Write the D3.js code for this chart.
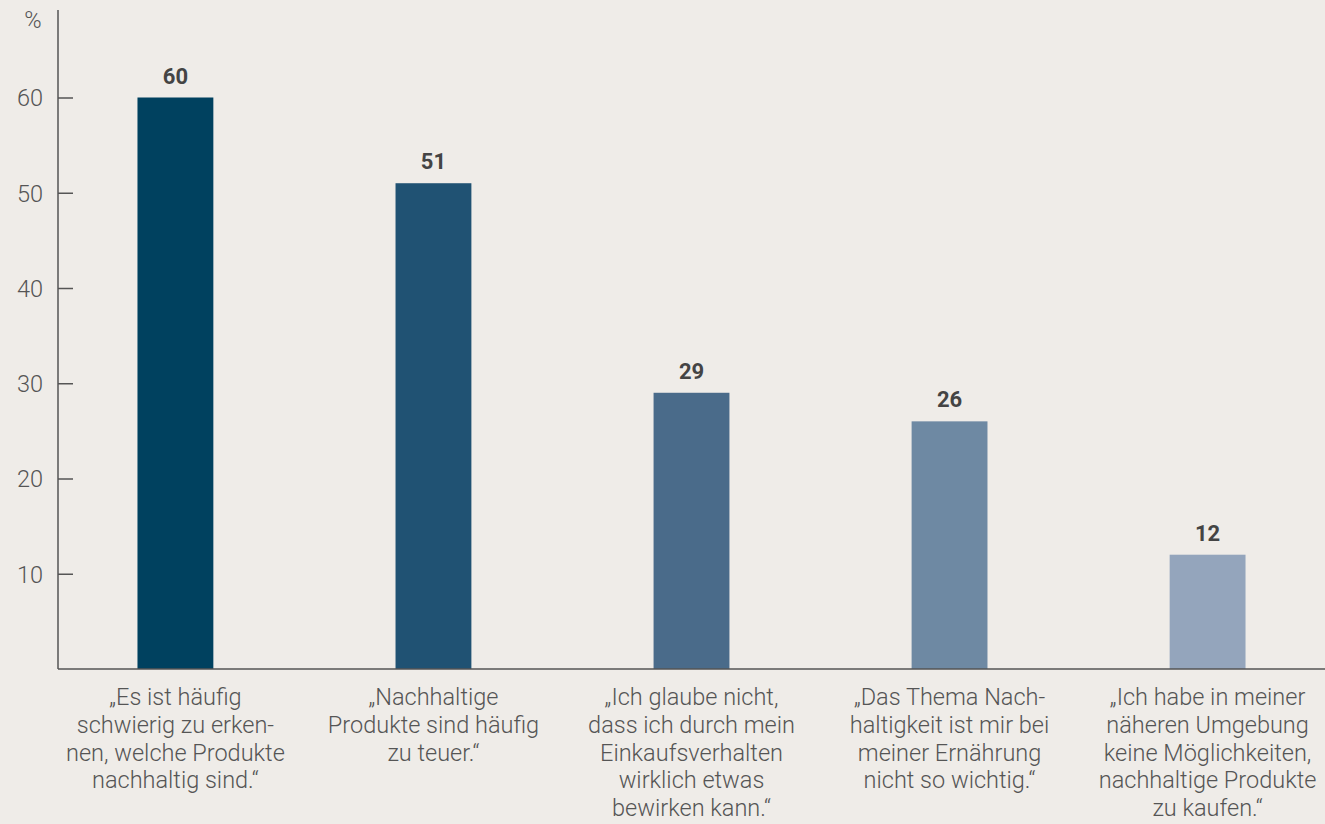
<!DOCTYPE html>
<html>
<head>
<meta charset="utf-8">
<script src="https://cdn.jsdelivr.net/npm/d3@7"></script>
<style>
  html, body { margin: 0; padding: 0; background: #efece8; }
  svg { display: block; }
  .axis text { font-family: Roboto, sans-serif; font-weight: 300; font-size: 23.5px; fill: #555; }
  .cat { font-family: Roboto, sans-serif; font-weight: 300; font-size: 23.5px; fill: #555; }
  .val { font-family: Roboto, sans-serif; font-weight: 700; font-size: 22px; fill: #444; }
</style>
</head>
<body>
<div id="chart"></div>
<script>
// data
var categories = [
  ['„Es ist häufig', 'schwierig zu erken-', 'nen, welche Produkte', 'nachhaltig sind.“'],
  ['„Nachhaltige', 'Produkte sind häufig', 'zu teuer.“'],
  ['„Ich glaube nicht,', 'dass ich durch mein', 'Einkaufsverhalten', 'wirklich etwas', 'bewirken kann.“'],
  ['„Das Thema Nach-', 'haltigkeit ist mir bei', 'meiner Ernährung', 'nicht so wichtig.“'],
  ['„Ich habe in meiner', 'näheren Umgebung', 'keine Möglichkeiten,', 'nachhaltige Produkte', 'zu kaufen.“']
];
var values = [60, 51, 29, 26, 12];
var barColors = ['#00415f', '#205273', '#4a6b8a', '#6e89a3', '#94a5bc'];
var yTicks = [10, 20, 30, 40, 50, 60];

var svgWidth = 1325;
var svgHeight = 824;
var margin = { left: 58, top: 10, right: 0 };
var baseY = 669;

var svg = d3.select('#chart').append('svg')
  .attr('width', svgWidth)
  .attr('height', svgHeight);

var xScale = d3.scaleBand()
  .domain(d3.range(values.length))
  .range([margin.left, svgWidth])
  .paddingInner(0.706)
  .paddingOuter(0.308);

var yScale = d3.scaleLinear()
  .domain([0, 60])
  .range([baseY, 97.5]);

// bars
svg.selectAll('.bar')
  .data(values)
  .enter().append('rect')
  .attr('class', 'bar')
  .attr('x', function (d, i) { return xScale(i); })
  .attr('y', function (d) { return yScale(d); })
  .attr('width', xScale.bandwidth())
  .attr('height', function (d) { return baseY - yScale(d); })
  .attr('fill', function (d, i) { return barColors[i]; });

// value labels
svg.selectAll('.val')
  .data(values)
  .enter().append('text')
  .attr('class', 'val')
  .attr('text-anchor', 'middle')
  .attr('x', function (d, i) { return xScale(i) + xScale.bandwidth() / 2; })
  .attr('y', function (d) { return yScale(d) - 14; })
  .text(function (d) { return d; });

// y axis
var yAxis = d3.axisRight(yScale)
  .tickValues(yTicks)
  .tickSize(15)
  .tickFormat(d3.format('d'));

var gy = svg.append('g')
  .attr('class', 'axis axis--y')
  .attr('transform', 'translate(' + margin.left + ', 0)')
  .call(yAxis);
gy.select('.domain').remove();
gy.selectAll('line').attr('stroke', '#555').attr('stroke-width', 1.5);
gy.selectAll('text')
  .attr('x', -15)
  .attr('dy', '0.36em')
  .attr('text-anchor', 'end');

svg.append('line')
  .attr('x1', margin.left).attr('x2', margin.left)
  .attr('y1', margin.top).attr('y2', baseY)
  .attr('stroke', '#555').attr('stroke-width', 1.5);

svg.append('line')
  .attr('x1', margin.left).attr('x2', svgWidth)
  .attr('y1', baseY).attr('y2', baseY)
  .attr('stroke', '#555').attr('stroke-width', 1.5);

svg.append('text')
  .attr('class', 'cat')
  .attr('x', 33)
  .attr('y', 28)
  .attr('text-anchor', 'middle')
  .text('%');

// category labels
var cats = svg.selectAll('.cat-label')
  .data(categories)
  .enter().append('text')
  .attr('class', 'cat cat-label')
  .attr('text-anchor', 'middle')
  .attr('transform', function (d, i) {
    return 'translate(' + (xScale(i) + xScale.bandwidth() / 2) + ', 705)';
  });

cats.selectAll('tspan')
  .data(function (d) { return d; })
  .enter().append('tspan')
  .attr('x', 0)
  .attr('y', function (d, j) { return j * 27.8; })
  .text(function (d) { return d; });
</script>
</body>
</html>
